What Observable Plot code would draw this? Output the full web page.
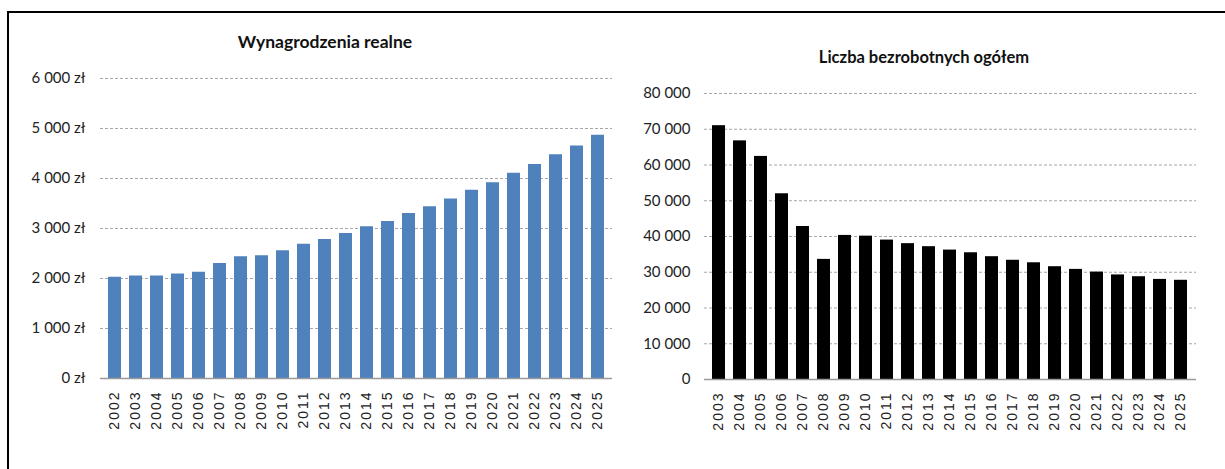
<!DOCTYPE html>
<html>
<head>
<meta charset="utf-8">
<script src="https://cdn.jsdelivr.net/npm/d3@7"></script>
<script src="https://cdn.jsdelivr.net/npm/@observablehq/plot@0.6"></script>
<style>
  html, body { margin: 0; padding: 0; background: #fff; }
  body { width: 1225px; height: 469px; position: relative; overflow: hidden; }
  #frame { position: absolute; left: 7px; top: 11px; width: 1240px; height: 480px; border: 2px solid #000; box-sizing: border-box; }
  .title { position: absolute; text-align: center; font-family: Lato, "Open Sans", sans-serif; font-weight: bold; color: #111; white-space: nowrap; }
  #t1 { left: 175px; width: 300px; top: 31px; font-size: 17.5px; }
  #t2 { left: 774px; width: 300px; top: 47px; font-size: 16.5px; }
  .chart { position: absolute; top: 0; }
  #c1 { left: 0; }
  #c2 { left: 620px; }
  g[aria-label="x-axis tick label"] text { letter-spacing: 2px; }
</style>
</head>
<body>
<div id="frame"></div>
<div id="t1" class="title">Wynagrodzenia realne</div>
<div id="t2" class="title">Liczba bezrobotnych ogółem</div>
<div id="c1" class="chart"></div>
<div id="c2" class="chart"></div>
<script>
// Wynagrodzenia realne
const wageYears = ["2002","2003","2004","2005","2006","2007","2008","2009","2010","2011","2012","2013","2014","2015","2016","2017","2018","2019","2020","2021","2022","2023","2024","2025"];
const wageValues = [2025, 2050, 2050, 2090, 2125, 2300, 2435, 2455, 2555, 2685, 2780, 2900, 3035, 3140, 3300, 3435, 3590, 3765, 3915, 4105, 4280, 4475, 4650, 4865];
const wageTicks = [0, 1000, 2000, 3000, 4000, 5000, 6000];

// Liczba bezrobotnych ogółem
const unempYears = ["2003","2004","2005","2006","2007","2008","2009","2010","2011","2012","2013","2014","2015","2016","2017","2018","2019","2020","2021","2022","2023","2024","2025"];
const unempValues = [71000, 66750, 62400, 51950, 42800, 33600, 40300, 40100, 39000, 38000, 37150, 36200, 35450, 34350, 33350, 32650, 31550, 30800, 30050, 29250, 28750, 28000, 27750];
const unempTicks = [0, 10000, 20000, 30000, 40000, 50000, 60000, 70000, 80000];

const wageData = wageYears.map((y, i) => ({year: y, value: wageValues[i]}));
const unempData = unempYears.map((y, i) => ({year: y, value: unempValues[i]}));

const loc = d3.formatLocale({decimal: ",", thousands: " ", grouping: [3], currency: ["", ""]});
const fmt = loc.format(",");

const yFont = "Lato, 'Open Sans', sans-serif";
const xFont = "'Liberation Sans', Arial, sans-serif";

const c1 = Plot.plot({
  width: 620, height: 469,
  marginLeft: 100, marginRight: 8, marginTop: 78, marginBottom: 91,
  style: {fontFamily: yFont, color: "#222", background: "transparent"},
  x: {domain: wageYears, padding: 0.38},
  y: {domain: [0, 6000]},
  marks: [
    Plot.gridY(wageTicks.filter(d => d > 0), {stroke: "#a6a6a6", strokeOpacity: 1, strokeDasharray: "3,2"}),
    Plot.barY(wageData, {x: "year", y: "value", fill: "#4F81BD"}),
    Plot.ruleY([0], {stroke: "#9a9a9a", strokeWidth: 1.5}),
    Plot.axisY({ticks: wageTicks, tickFormat: d => fmt(d) + " zł", tickSize: 0, tickPadding: 15, label: null, fontSize: 15, fontFamily: yFont}),
    Plot.axisX({tickRotate: -90, tickSize: 0, tickPadding: 12, label: null, fontSize: 14, fontFamily: xFont})
  ]
});
document.getElementById("c1").appendChild(c1);

const c2 = Plot.plot({
  width: 605, height: 469,
  marginLeft: 84, marginRight: 29, marginTop: 93, marginBottom: 90,
  style: {fontFamily: yFont, color: "#222", background: "transparent"},
  x: {domain: unempYears, padding: 0.38},
  y: {domain: [0, 80000]},
  marks: [
    Plot.gridY(unempTicks.filter(d => d > 0), {stroke: "#a6a6a6", strokeOpacity: 1, strokeDasharray: "3,2"}),
    Plot.barY(unempData, {x: "year", y: "value", fill: "#000"}),
    Plot.ruleY([0], {stroke: "#9a9a9a", strokeWidth: 1.5}),
    Plot.axisY({ticks: unempTicks, tickFormat: d => fmt(d), tickSize: 0, tickPadding: 14, label: null, fontSize: 15, fontFamily: yFont}),
    Plot.axisX({tickRotate: -90, tickSize: 0, tickPadding: 12, label: null, fontSize: 14, fontFamily: xFont})
  ]
});
document.getElementById("c2").appendChild(c2);
</script>
</body>
</html>
